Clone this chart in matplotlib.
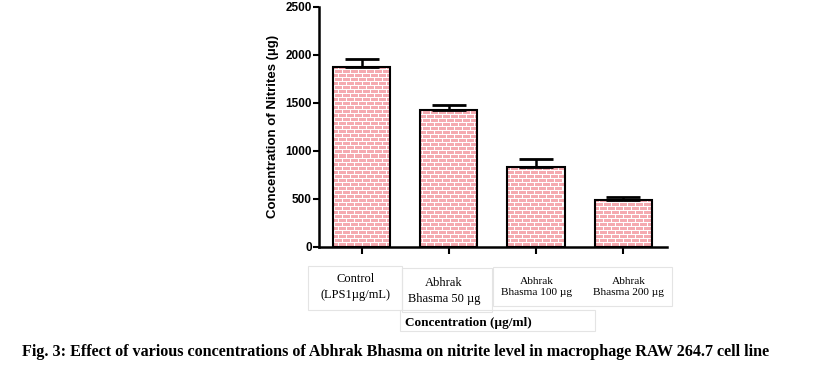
import numpy as np
import matplotlib.pyplot as plt
from matplotlib.patches import Rectangle

groups = ['Control\n(LPS1\u00b5g/mL)', 'Abhrak\nBhasma 50 \u00b5g',
          'Abhrak\nBhasma 100 \u00b5g', 'Abhrak\nBhasma 200 \u00b5g']
nitrite = [1875, 1424, 833, 486]
err = [77, 59, 84, 35]
yticks = [0, 500, 1000, 1500, 2000, 2500]

fig = plt.figure(figsize=(8.37, 3.81), dpi=100)
ax = fig.add_axes([0.381, 0.352, 0.416, 0.630])

x = np.arange(len(nitrite))
bars = ax.bar(x, nitrite, width=0.655, color='none', edgecolor='black', linewidth=1.5, zorder=3)
ax.errorbar(x, nitrite, yerr=[np.zeros(len(err)), err], fmt='none', ecolor='black',
            elinewidth=1.8, capsize=12, capthick=2, zorder=4)

# brick texture (pink bricks, white mortar), clipped to each bar
H, W = 240, 348
tex = np.ones((H, W, 3))
pink = np.array([245, 170, 176]) / 255.0
for r in range(H):
    row = r // 4
    if r % 4 == 3:
        continue
    for c in range(W):
        cc = (c + (4 if row % 2 else 0)) % 8
        if cc != 7:
            tex[r, c] = pink
for b in bars:
    im = ax.imshow(tex, extent=[-0.494, 3.506, 0, 2500], aspect='auto',
                   interpolation='nearest', zorder=2)
    im.set_clip_path(b)
ax.set_xlim(-0.494, 3.506)
ax.set_ylim(0, 2500)

for s in ['top', 'right']:
    ax.spines[s].set_visible(False)
for s in ['left', 'bottom']:
    ax.spines[s].set_linewidth(1.8)
ax.set_yticks(yticks)
ax.set_yticklabels([str(v) for v in yticks], fontsize=8.5, fontweight='bold', family='Liberation Sans')
ax.tick_params(axis='y', length=4, width=1.5, pad=1)
ax.set_xticks(x)
ax.set_xticklabels([])
ax.tick_params(axis='x', length=5, width=1.5)
ax.set_ylabel('Concentration of Nitrites (\u00b5g)', fontsize=9.5, fontweight='bold',
              family='Liberation Sans', labelpad=5)

# faint label boxes below the axis
fw, fh = 837.0, 381.0
def box(x0, y0, x1, y1):
    fig.add_artist(Rectangle((x0 / fw, 1 - y1 / fh), (x1 - x0) / fw, (y1 - y0) / fh,
                             transform=fig.transFigure, fill=False, edgecolor='#e4e4e4', linewidth=0.8))
box(308, 266, 402, 310)
box(402, 268, 492, 312)
box(493, 267, 672, 306)
box(400, 310, 595, 331)

lab_x = [356, 444, 537, 629]
lab_y = [287, 291, 287, 287]
lab_fs = [9, 9, 8.2, 8.2]
for g, lx, ly, fs in zip(groups, lab_x, lab_y, lab_fs):
    fig.text(lx / fw, 1 - ly / fh, g, ha='center', va='center', fontsize=fs,
             family='Liberation Serif', linespacing=1.35)

fig.text(468 / fw, 1 - 323 / fh, 'Concentration (\u00b5g/ml)', ha='center', va='center',
         fontsize=9.5, fontweight='bold', family='Liberation Serif')

fig.text(22 / fw, 1 - 352 / fh,
         'Fig. 3: Effect of various concentrations of Abhrak Bhasma on nitrite level in macrophage RAW 264.7 cell line',
         ha='left', va='center', fontsize=11.6, fontweight='bold', family='Liberation Serif')

fig.savefig('out.png', dpi=100)
